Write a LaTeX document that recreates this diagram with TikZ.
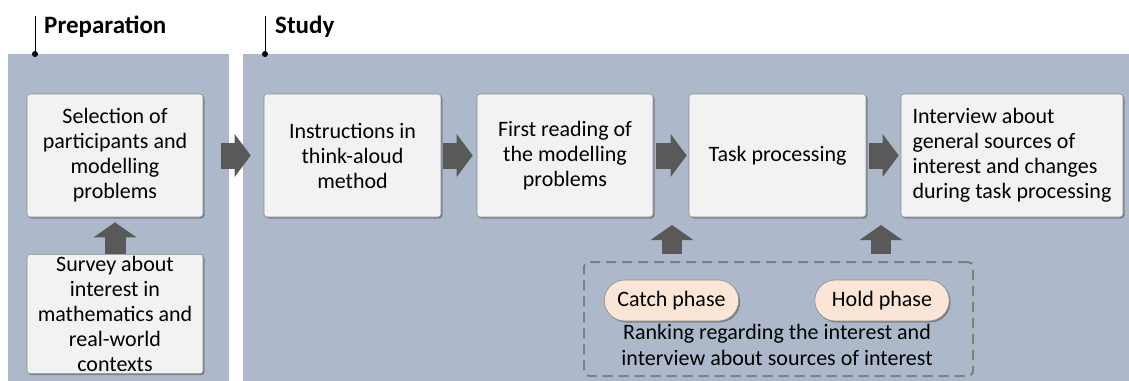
\documentclass[tikz,border=0pt]{standalone}
\usepackage{fontspec}
\setmainfont{Carlito}
\usetikzlibrary{arrows.meta,shadows,shapes.misc,calc}
\definecolor{panel}{HTML}{ADB9CA}
\definecolor{boxfill}{HTML}{F2F2F2}
\definecolor{boxline}{HTML}{8C8C8C}
\definecolor{arrowc}{HTML}{595959}
\definecolor{dashc}{HTML}{7F7F7F}
\definecolor{pillc}{HTML}{FBE5D6}
\begin{document}
\begin{tikzpicture}[x=1pt,y=-1pt,
  panelbox/.style={fill=panel, draw=none, anchor=north west, inner sep=0pt, outer sep=0pt},
  boxshadow/.style={drop shadow={shadow xshift=1.5pt, shadow yshift=-1.5pt, opacity=0.3, fill=black}},
  stepbox/.style={draw=boxline, fill=boxfill, rounded corners=3pt, line width=0.6pt,
    font=\fontsize{22}{25}\selectfont, inner sep=2pt, boxshadow},
  pillbox/.style={rounded rectangle, draw=boxline, fill=pillc, line width=0.6pt,
    minimum width=141pt, minimum height=41pt, font=\fontsize{22}{25}\selectfont, boxshadow},
  rankbox/.style={draw=dashc, line width=2pt, dash pattern=on 10pt off 6pt, rounded corners=5pt,
    minimum width=389pt, minimum height=114pt, inner sep=0pt},
  plaintext/.style={align=center, font=\fontsize{22}{26}\selectfont, inner sep=0pt},
  titletext/.style={font=\fontsize{25}{28}\selectfont\bfseries, anchor=base west, inner sep=0pt},
  titleline/.style={draw=black, line width=0.8pt},
  hbarrow/.style={draw=arrowc, line width=26pt, -{Triangle[length=16pt, width=42pt]}},
  vbarrow/.style={draw=arrowc, line width=21pt, -{Triangle[length=15pt, width=42pt]}},
]
\useasboundingbox (0,0) rectangle (1129,380);
\clip (0,0) rectangle (1129,380);

% panels
\node[panelbox, minimum width=221pt, minimum height=340pt] (prep) at (8,54) {};
\node[panelbox, minimum width=900pt, minimum height=340pt] (study) at (243,54) {};

% titles
\coordinate (prepdot) at (35,54);
\coordinate (studydot) at (265,54);
\draw[titleline] (prepdot) -- ++(0,-38);
\draw[titleline] (studydot) -- ++(0,-38);
\fill (prepdot) circle (3pt);
\fill (studydot) circle (3pt);
\node[titletext] (preptitle) at (44,33) {Preparation};
\node[titletext] (studytitle) at (275,33) {Study};

% preparation boxes
\node[stepbox, align=center, minimum width=176pt, minimum height=123pt] (sel) at (115,155.5)
  {Selection of\\participants and\\modelling\\problems};
\node[stepbox, align=center, anchor=north, minimum width=176pt, inner ysep=2pt] (survey) at (115,254)
  {Survey about\\interest in\\mathematics and\\real-world\\contexts};

% study boxes
\node[stepbox, align=center, minimum width=177pt, minimum height=123pt] (instr) at (352.5,155.5)
  {Instructions in\\think-aloud\\method};
\node[stepbox, align=center, minimum width=176pt, minimum height=123pt] (first) at (565,155.5)
  {First reading of\\the modelling\\problems};
\node[stepbox, align=center, minimum width=177pt, minimum height=123pt] (task) at (777.5,155.5)
  {Task processing};
\node[stepbox, align=left, minimum width=222pt, minimum height=123pt] (intv) at (1012,155.5)
  {Interview about\\general sources of\\interest and changes\\during task processing};

% ranking group
\node[rankbox] (rank) at (778.5,319) {};
\node[pillbox] (catch) at (671.5,300.5) {Catch phase};
\node[pillbox] (hold) at (882,300.5) {Hold phase};
\node[plaintext] (ranktext) at (777,345)
  {Ranking regarding the interest and\\interview about sources of interest};

% block arrows
\draw[hbarrow, shorten <=18pt, shorten >=13pt] (sel.east) -- (instr.west);
\draw[hbarrow, shorten <=2pt, shorten >=4pt] (instr.east) -- (first.west);
\draw[hbarrow, shorten <=3pt, shorten >=2pt] (first.east) -- (task.west);
\draw[hbarrow, shorten <=3pt, shorten >=2pt] (task.east) -- (intv.west);
\draw[vbarrow, shorten >=5pt] (survey.north) -- (sel.south);

\coordinate (t1) at (672,225);
\coordinate (t2) at (881,225);
\draw[vbarrow, line width=20pt, shorten <=7pt] (rank.north -| t1) -- (t1);
\draw[vbarrow, line width=20pt, shorten <=7pt] (rank.north -| t2) -- (t2);
\end{tikzpicture}
\end{document}
